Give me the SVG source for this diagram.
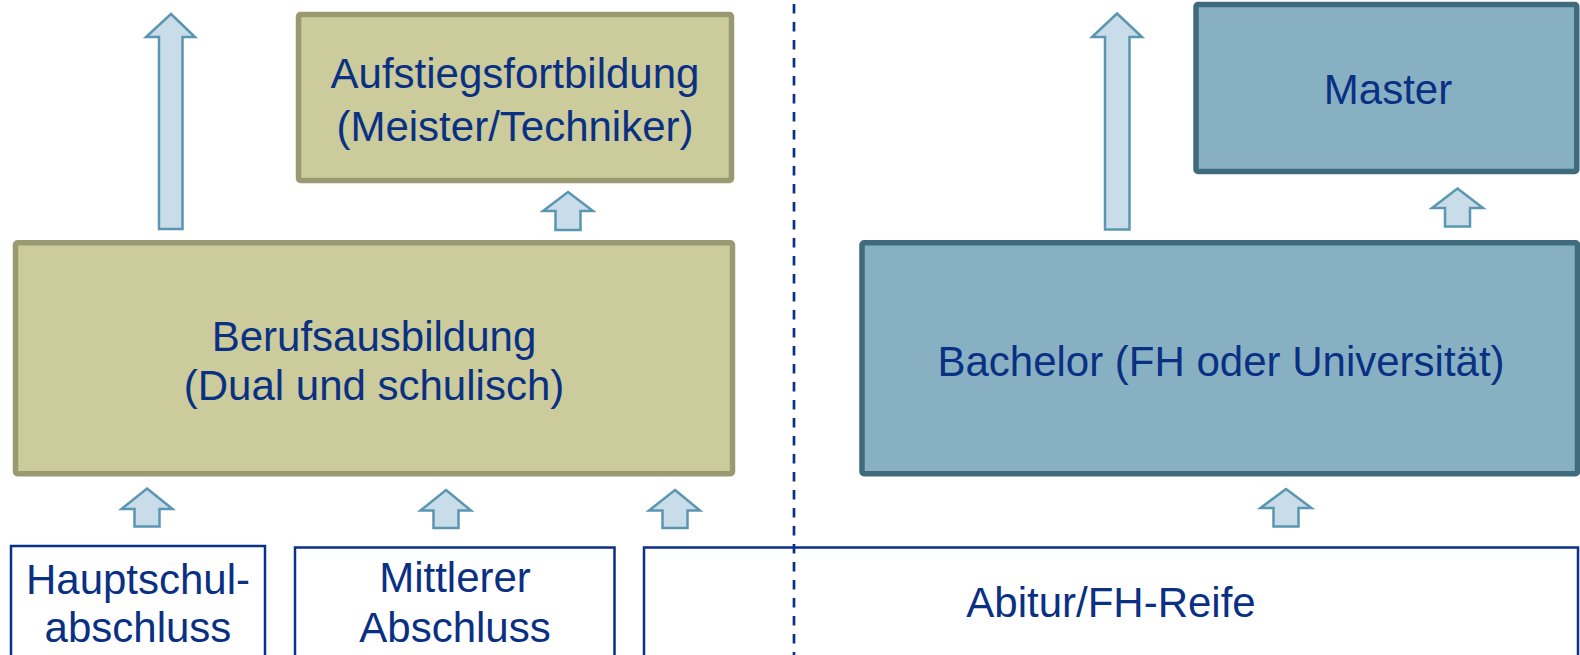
<svg xmlns="http://www.w3.org/2000/svg" width="1580" height="655" viewBox="0 0 1580 655">
<style>
.olive{fill:#CBCB9B;stroke:#9A9A72;stroke-width:5.5}
.teal{fill:#87B0C2;stroke:#3F6B7D;stroke-width:5.5}
.plain{fill:#FFFFFF;stroke:#0A3189;stroke-width:2.5}
.arr{fill:#C9DCEA;stroke:#5B96B1;stroke-width:2.5;stroke-linejoin:miter}
text{font-family:"Liberation Sans",Arial,sans-serif;font-size:42px;fill:#0A3084;text-anchor:middle}
</style>
<rect width="1580" height="655" fill="#FFFFFF"/>
<g id="aufstieg">
<rect class="olive" x="298.5" y="14.5" width="433" height="166" rx="2"/>
<text x="515" y="88">Aufstiegsfortbildung</text>
<text x="515" y="141">(Meister/Techniker)</text>
</g>
<g id="berufsausbildung">
<rect class="olive" x="15.5" y="242.75" width="717" height="231" rx="2"/>
<text x="374" y="351">Berufsausbildung</text>
<text x="374" y="400">(Dual und schulisch)</text>
</g>
<g id="master">
<rect class="teal" x="1196" y="4.5" width="380.8" height="167" rx="2"/>
<text x="1388" y="104">Master</text>
</g>
<g id="bachelor">
<rect class="teal" x="862" y="242.75" width="715.5" height="231" rx="2"/>
<text x="1221" y="376">Bachelor (FH oder Universität)</text>
</g>
<g id="hauptschul">
<rect class="plain" x="11" y="546" width="254" height="120"/>
<text x="138" y="594">Hauptschul-</text>
<text x="138" y="642">abschluss</text>
</g>
<g id="mittlerer">
<rect class="plain" x="295" y="547.5" width="319.5" height="120"/>
<text x="455" y="592">Mittlerer</text>
<text x="455" y="642">Abschluss</text>
</g>
<g id="abitur">
<rect class="plain" x="644" y="547.5" width="934" height="120"/>
<text x="1111" y="617">Abitur/FH-Reife</text>
</g>
<g id="connectors">
<path class="arr" d="M171,14 L195,37 L182.5,37 L182.5,229 L159,229 L159,37 L146,37 Z"/>
<path class="arr" d="M568,192 L593,211 L580.5,211 L580.5,230 L555.5,230 L555.5,211 L543,211 Z"/>
<path class="arr" d="M147,488.5 L172.5,509 L159.5,509 L159.5,526.5 L134.5,526.5 L134.5,509 L121.5,509 Z"/>
<path class="arr" d="M446,490 L471,510.5 L458.5,510.5 L458.5,528 L433.5,528 L433.5,510.5 L420.5,510.5 Z"/>
<path class="arr" d="M675,490 L700,510.5 L687.5,510.5 L687.5,528 L662.5,528 L662.5,510.5 L649,510.5 Z"/>
<path class="arr" d="M1117,13.5 L1142,37 L1129.5,37 L1129.5,229.5 L1105,229.5 L1105,37 L1092,37 Z"/>
<path class="arr" d="M1457.5,188.5 L1483,208 L1470,208 L1470,226.5 L1445,226.5 L1445,208 L1432,208 Z"/>
<path class="arr" d="M1286,489 L1311.5,508 L1298.5,508 L1298.5,526.5 L1273.5,526.5 L1273.5,508 L1260.5,508 Z"/>
<line x1="794" y1="4" x2="794" y2="655" stroke="#0A3189" stroke-width="2.7" stroke-dasharray="9.5 8.5"/>
</g>
</svg>
